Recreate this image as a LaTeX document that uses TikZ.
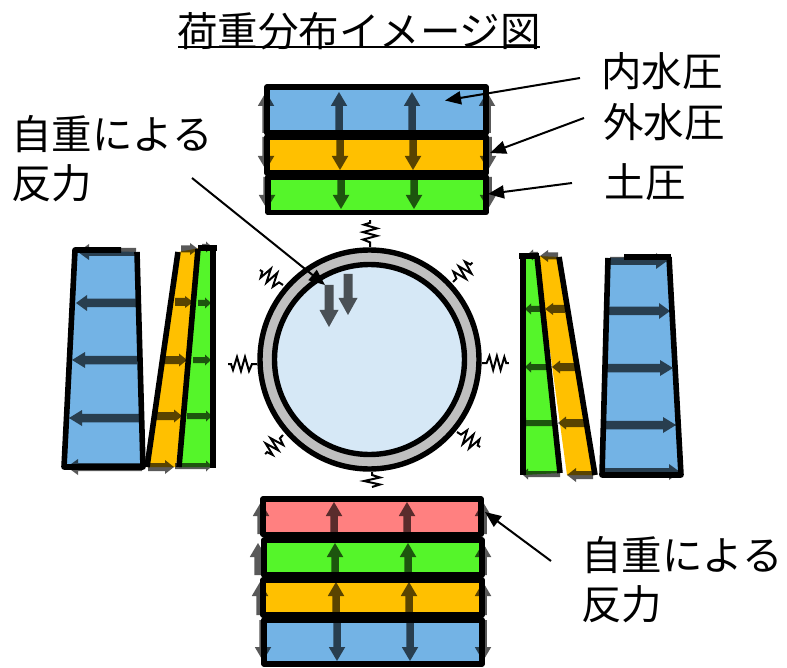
\documentclass[tikz,border=0pt]{standalone}
\usepackage{fontspec}
\setmainfont{Noto Sans CJK JP}
\usetikzlibrary{arrows.meta}
\definecolor{cblue}{HTML}{73B3E5}
\definecolor{corange}{HTML}{FFC000}
\definecolor{cgreen}{HTML}{55F52A}
\definecolor{cred}{HTML}{FF8080}
\definecolor{cwater}{HTML}{D6E8F6}
\definecolor{cring}{HTML}{BFBFBF}
\tikzset{
  blockar/.style={fill=black,fill opacity=.65},
  outl/.style={draw=black,line width=5.6pt,line join=round},
  thickline/.style={draw=black,line width=5.6pt,line join=round,line cap=butt},
  springline/.style={draw=black,line width=2pt,line join=miter},
  leader/.style={draw=black,line width=2pt,-{Triangle[length=16pt,width=13pt]}},
  lab/.style={inner sep=0pt,font=\fontsize{40.5}{49}\selectfont,align=left},
}
% block arrow: start x y, length, angle, shaft, head width, head length
\newcommand{\barw}[7]{\fill[blockar,shift={(#1,#2)},rotate=#4] (0,-#5/2) -- ({#3-#7},-#5/2) -- ({#3-#7},-#6/2) -- (#3,0) -- ({#3-#7},#6/2) -- ({#3-#7},#5/2) -- (0,#5/2) -- cycle;}
% horizontal: y x1 x2 w h l
\newcommand{\hba}[6]{\pgfmathsetmacro{\tmpL}{abs(#3-#2)}\pgfmathsetmacro{\tmpA}{(#3>#2)?0:180}\barw{#2}{#1}{\tmpL}{\tmpA}{#4}{#5}{#6}}
% vertical: x y1 y2 w h l
\newcommand{\vba}[6]{\pgfmathsetmacro{\tmpL}{abs(#3-#2)}\pgfmathsetmacro{\tmpA}{(#3>#2)?270:90}\barw{#1}{#2}{\tmpL}{\tmpA}{#4}{#5}{#6}}
% spring: start x y, angle, scale
\newcommand{\spring}[4]{\draw[springline,shift={(#1,#2)},rotate=#3,xscale=#4] (0,0) -- (5,0) -- (8,-7) -- (12,7) -- (16,-7) -- (20,7) -- (24,-6) -- (26,0) -- (29,0);}
\newcommand{\shortspring}[3]{\draw[springline,shift={(#1,#2)},rotate=#3] (0,0) -- (3,0) -- (5.5,-8) -- (9,8) -- (12.5,-8) -- (15,0);}
\begin{document}
\begin{tikzpicture}[x=1pt,y=-1pt]
\useasboundingbox (0,0) rectangle (787,668);
\fill[white] (0,0) rectangle (787,668);
% title
\node[lab] (title) at (359,31) {荷重分布イメージ図};
\coordinate (ulL) at (178,47); \coordinate (ulR) at (540,47);
\draw[line width=2pt] (ulL) -- (ulR);
% top stack
\fill[cblue] (267,87) rectangle (486,133);
\fill[corange] (267,137) rectangle (486,173);
\fill[cgreen] (268,177) rectangle (486,213);
\foreach \x in {266,339,412,487}{\vba{\x}{133}{92}{7.5}{16.5}{14}}
\foreach \x in {266,340,413,488}{\vba{\x}{137}{170}{7.5}{16.5}{14}}
\foreach \x in {267,341,414,488}{\vba{\x}{177}{209}{7.5}{16.5}{14}}
\draw[outl] (267,87) rectangle (486,133);
\draw[outl] (267,137) rectangle (486,173);
\draw[outl] (268,177) rectangle (486,212.5);
% bottom stack
\fill[cred] (263,499) rectangle (481,534);
\fill[cgreen] (264,540) rectangle (482,575);
\fill[corange] (263,580) rectangle (482,615);
\fill[cblue] (264,620) rectangle (482,664);
\foreach \x in {261,334,407,483}{\vba{\x}{534}{502}{7.5}{16.5}{14}}
\foreach \x in {258,335,408,483}{\vba{\x}{575}{543}{7.5}{16.5}{14}}
\foreach \x in {260,336,409,483}{\vba{\x}{615}{582}{7.5}{16.5}{14}}
\foreach \x in {263,337,410,483}{\vba{\x}{620}{661}{7.5}{16.5}{14}}
\draw[outl] (263,499) rectangle (481,534.5);
\draw[outl] (264,540) rectangle (482,575);
\draw[outl] (263,580) rectangle (482,615);
\draw[outl] (264,620) rectangle (482,664);
% left stack
\fill[cblue] (75,250) -- (137,252) -- (143,467) -- (64,467) -- cycle;
\fill[corange] (178,252) -- (200,248) -- (176,467) -- (147,467) -- cycle;
\fill[cgreen] (200,248) -- (213,248) -- (213,467) -- (179,467) -- cycle;
\hba{252}{136}{78}{8}{16}{11}
\hba{303}{136}{76}{8.5}{16}{11}
\hba{360}{137}{72}{8.5}{16}{13}
\hba{418}{139}{69}{8.5}{16}{13}
\hba{467}{142}{67}{8}{16}{11}
\hba{249}{181}{198}{7}{12}{8}
\hba{302}{175}{193}{8}{12}{8}
\hba{360}{165}{187}{8}{13}{8}
\hba{416}{156}{182}{8}{13}{8}
\hba{467}{148}{174}{8}{14}{9}
\hba{247}{202}{212}{6}{11}{6}
\hba{303}{198}{211}{6}{11}{6}
\hba{360}{193}{211}{6}{11}{6}
\hba{416}{187}{212}{6}{11}{6}
\hba{466}{175}{212}{6}{11}{6}
\draw[thickline] (121,250) -- (75,250) -- (64,467) -- (143,467) -- (137,252);
\draw[thickline] (178,252) -- (147,467);
\draw[thickline] (198,249) -- (179,467);
\draw[thickline] (198,248) -- (217,248);
\draw[thickline] (213,248) -- (213,468);
% right stack
\fill[cgreen] (523,256) -- (537,256) -- (560,473) -- (523,475) -- cycle;
\fill[corange] (537,256) -- (559,257) -- (595,475) -- (567,475) -- cycle;
\fill[cblue] (608,258) -- (669,257) -- (681,475) -- (602,475) -- cycle;
\hba{261}{610}{667}{8}{16}{11}
\hba{311}{609}{670}{8.5}{16}{11}
\hba{368}{607}{673}{8.5}{16}{13}
\hba{425}{606}{676}{8.5}{16}{13}
\hba{472}{604}{680}{8}{16}{11}
\hba{256}{558}{540}{7}{12}{8}
\hba{309}{565}{545}{8}{12}{8}
\hba{367}{575}{552}{8}{13}{8}
\hba{423}{584}{558}{8}{13}{8}
\hba{475}{593}{567}{8}{14}{9}
\hba{255}{538}{527}{6}{11}{6}
\hba{309}{540}{525}{6}{11}{6}
\hba{367}{547}{525}{6}{11}{6}
\hba{423}{552}{520}{6}{11}{6}
\hba{474}{560}{522}{6}{11}{6}
\draw[thickline] (624,257) -- (671,257);
\draw[thickline] (669,257) -- (681,475) -- (602,475) -- (608,258);
\draw[thickline] (519,256) -- (539,256);
\draw[thickline] (523,256) -- (523,475);
\draw[thickline] (537,256) -- (560,473);
\draw[thickline] (559,257) -- (595,475);
% springs
\spring{370}{247}{90}{.93}
\spring{482}{363}{0}{.93}
\spring{257}{364}{180}{1}
\shortspring{372}{472}{270}
\spring{453}{282}{45}{.95}
\spring{283}{285}{147}{.95}
\spring{283}{435}{227}{.9}
\spring{457}{432}{327}{.95}
% pipe
\fill[cring] (369.5,359.5) circle[radius=109.5];
\fill[cwater] (369.5,359.5) circle[radius=95];
\draw[line width=5.4pt] (369.5,359.5) circle[radius=109.5];
\draw[line width=5.4pt] (369.5,359.5) circle[radius=95];
% self-weight arrows
\vba{329}{285}{327}{9}{19}{17}
\vba{348}{274}{315}{9}{19}{17}
% labels and leaders
\node[lab] (ln) at (662,71) {内水圧};
\node[lab] (lo) at (664,122) {外水圧};
\node[lab] (ld) at (645,182) {土圧};
\node[lab,anchor=west] (lj) at (11,159) {自重による\\反力};
\node[lab,anchor=west] (lk) at (581,580) {自重による\\反力};
\coordinate (a1) at (580,78); \coordinate (t1) at (445,100.5);
\coordinate (a2) at (584,118); \coordinate (t2) at (490,153);
\coordinate (a3) at (572,183); \coordinate (t3) at (488,194);
\coordinate (a4) at (192,178); \coordinate (t4) at (325,285);
\coordinate (a5) at (551,561); \coordinate (t5) at (485,512);
\draw[leader] (a1) -- (t1);
\draw[leader] (a2) -- (t2);
\draw[leader] (a3) -- (t3);
\draw[leader] (a4) -- (t4);
\draw[leader] (a5) -- (t5);
\end{tikzpicture}
\end{document}
